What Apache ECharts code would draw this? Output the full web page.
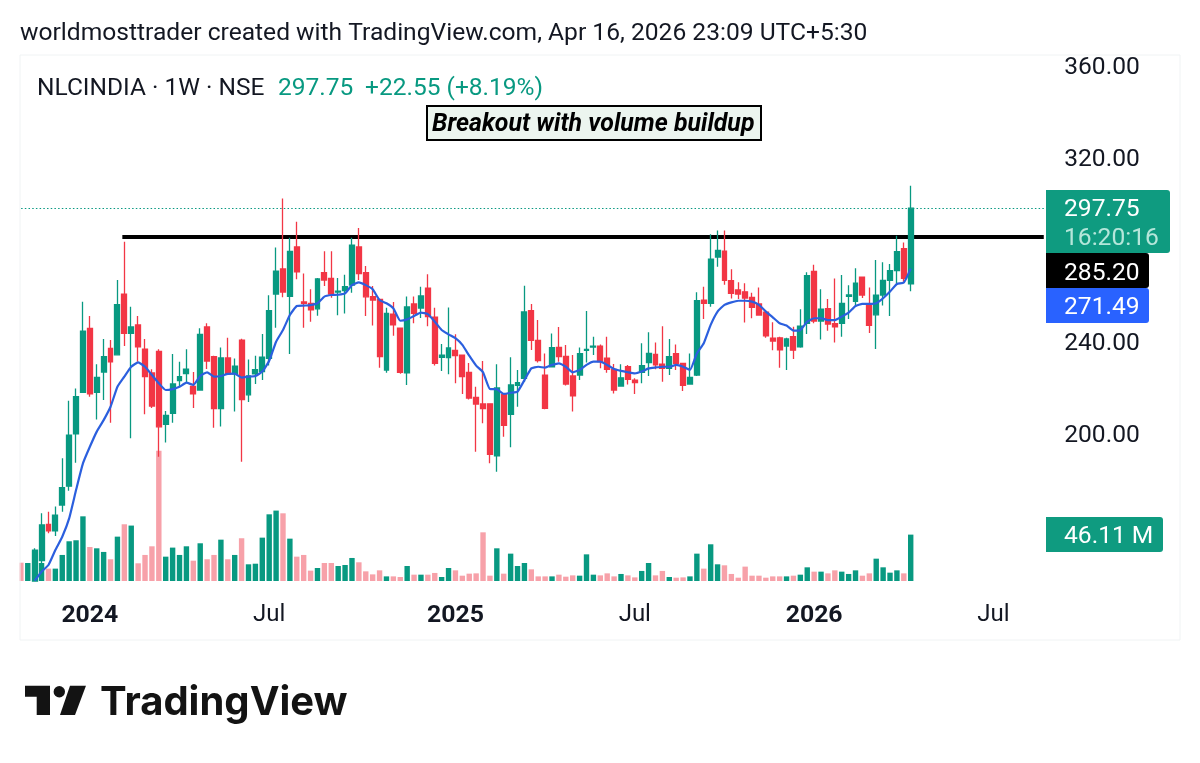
<!DOCTYPE html>
<html>
<head>
<meta charset="utf-8">
<script src="https://cdn.jsdelivr.net/npm/echarts@6/dist/echarts.min.js"></script>
<style>
  html, body { margin: 0; padding: 0; background: #fff; }
  #chart { width: 1200px; height: 763px; }
</style>
</head>
<body>
<div id="chart"></div>
<script>
// weekly bars, first week of the axis and the labelled weeks
const firstWeek = '2023-10-23';
const weekCount = 149;
const tickLabels = {
  '2024-01-01': '2024', '2024-07-01': 'Jul', '2025-01-06': '2025',
  '2025-07-07': 'Jul', '2026-01-05': '2026', '2026-07-06': 'Jul'
};

// first two weeks have no visible candle, only a volume bar
const opens = [null, null, 135.6, 144.5, 160.3, 157.5, 168.7, 176.9, 199.6, 217.7,
  245.5, 217.7, 226.5, 236.8, 234.0, 260.4, 243.3, 247.0, 236.5, 226.1,
  235.5, 203.8, 208.5, 222.8, 225.8, 220.3, 218.7, 246.1, 233.2, 210.6,
  232.6, 225.7, 240.4, 216.6, 225.7, 226.7, 232.5, 260.4, 271.3, 259.4,
  280.9, 257.0, 256.4, 254.0, 269.7, 267.2, 261.3, 261.9, 264.3, 280.9,
  269.7, 259.3, 258.1, 227.4, 251.7, 245.6, 226.2, 256.1, 254.3, 263.0,
  250.4, 232.9, 232.8, 235.9, 233.9, 226.4, 215.5, 212.6, 212.7, 190.1,
  216.7, 208.1, 220.7, 223.8, 253.2, 240.3, 225.2, 228.8, 237.2, 233.3,
  224.8, 225.2, 235.9, 237.4, 237.8, 232.5, 227.7, 220.4, 228.8, 223.0,
  226.4, 230.6, 234.2, 229.9, 228.1, 234.5, 230.3, 221.3, 225.2, 257.8,
  256.4, 276.5, 279.1, 266.2, 262.2, 261.4, 259.0, 256.1, 252.5, 241.2,
  241.4, 237.8, 241.9, 237.5, 247.7, 270.3, 248.7, 254.1, 247.5, 247.7,
  259.4, 257.2, 267.8, 255.8, 251.4, 260.0, 266.4, 270.6, 280.2, 264.8];
const closes = [null, null, 149.1, 160.0, 157.5, 164.3, 176.2, 199.1, 215.8, 244.3,
  217.0, 224.2, 233.2, 230.9, 255.8, 243.3, 246.1, 237.5, 224.5, 211.7,
  202.7, 207.7, 221.3, 224.5, 227.8, 217.0, 242.9, 231.3, 210.6, 232.6,
  225.7, 229.1, 214.5, 224.8, 227.5, 233.0, 253.2, 270.4, 261.3, 279.0,
  270.1, 256.4, 253.5, 267.0, 266.5, 260.4, 261.7, 263.6, 281.7, 269.3,
  259.2, 257.8, 233.2, 252.0, 247.0, 226.4, 254.8, 252.0, 259.6, 250.6,
  230.3, 233.8, 237.0, 233.6, 224.5, 215.2, 212.6, 210.6, 190.7, 219.6,
  203.3, 220.9, 221.9, 252.6, 240.3, 231.5, 210.7, 237.1, 233.2, 221.3,
  216.1, 234.5, 236.4, 237.8, 231.0, 227.7, 218.7, 224.0, 223.3, 221.9,
  229.3, 234.6, 229.6, 228.1, 233.2, 230.3, 220.7, 224.2, 257.5, 256.4,
  275.6, 279.4, 266.4, 260.7, 260.4, 258.7, 254.6, 251.3, 242.2, 240.0,
  236.1, 240.9, 236.0, 246.5, 268.4, 248.7, 253.8, 247.4, 246.1, 256.4,
  260.0, 265.2, 260.0, 246.8, 259.9, 266.4, 270.6, 278.8, 267.2, 297.75];
const lows = [null, null, 135.6, 139.7, 156.4, 155.2, 165.8, 174.9, 187.1, 217.7,
  215.8, 205.9, 214.4, 204.5, 234.0, 237.8, 197.7, 231.0, 208.1, 210.9,
  189.7, 195.9, 204.5, 220.2, 221.6, 210.9, 218.7, 227.8, 202.3, 202.8,
  225.7, 209.3, 187.5, 213.5, 221.3, 223.0, 229.3, 245.8, 259.0, 234.3,
  266.8, 245.8, 248.4, 251.0, 263.9, 258.8, 251.2, 252.0, 261.0, 266.5,
  250.9, 246.7, 228.4, 226.2, 242.3, 225.8, 220.9, 247.7, 250.0, 246.4,
  229.3, 227.0, 225.5, 221.6, 217.0, 214.6, 191.9, 204.2, 186.8, 183.2,
  198.4, 193.8, 211.4, 222.3, 236.1, 230.7, 210.3, 228.8, 231.0, 220.7,
  209.3, 223.0, 230.7, 233.9, 228.1, 226.2, 217.2, 220.1, 221.1, 217.0,
  221.6, 224.8, 227.7, 222.3, 225.2, 227.4, 218.3, 221.3, 224.8, 249.6,
  254.9, 272.3, 264.5, 258.5, 258.3, 248.0, 249.9, 251.0, 241.4, 236.0,
  228.4, 227.4, 232.2, 237.1, 243.0, 247.7, 240.7, 244.5, 239.4, 241.9,
  249.6, 254.9, 258.7, 243.5, 236.5, 255.4, 250.9, 265.1, 265.8, 261.6];
const highs = [null, null, 149.9, 165.1, 165.8, 168.0, 189.0, 214.0, 219.3, 257.1,
  250.9, 229.9, 240.9, 240.4, 266.5, 283.2, 254.9, 250.9, 240.9, 227.7,
  236.4, 209.6, 234.3, 231.0, 236.4, 226.5, 245.5, 247.7, 233.6, 237.2,
  241.4, 232.4, 241.0, 232.0, 233.6, 243.0, 259.9, 280.7, 302.0, 284.9,
  291.9, 269.4, 262.5, 267.4, 279.0, 279.0, 267.4, 268.8, 284.9, 289.1,
  272.6, 263.9, 258.3, 254.5, 257.0, 245.9, 259.3, 259.3, 263.6, 269.0,
  254.5, 238.7, 254.6, 242.9, 234.1, 230.4, 220.1, 231.3, 212.9, 229.9,
  217.2, 232.9, 227.4, 264.0, 256.1, 249.1, 234.6, 243.3, 246.1, 238.3,
  233.9, 237.2, 253.0, 241.9, 238.5, 241.9, 230.0, 229.9, 229.6, 223.8,
  239.0, 243.8, 239.4, 246.4, 240.9, 238.5, 230.3, 234.6, 261.2, 263.6,
  286.4, 288.0, 288.0, 271.2, 265.5, 265.1, 261.0, 263.3, 253.5, 248.1,
  241.9, 241.4, 246.2, 253.8, 269.9, 273.2, 262.5, 258.3, 267.2, 268.7,
  264.2, 271.6, 268.0, 263.3, 275.2, 274.2, 273.5, 285.8, 282.8, 307.5];
const maValues = [null, null, 135.8, 139.7, 142.6, 149.1, 154.9, 162.9, 175.2, 186.8,
  194.0, 200.6, 205.6, 211.4, 220.1, 224.5, 228.8, 230.7, 228.8, 225.2,
  221.6, 218.7, 219.1, 220.1, 221.9, 220.9, 224.8, 226.4, 224.5, 224.8,
  225.7, 225.8, 224.1, 224.5, 224.8, 226.7, 231.4, 239.7, 244.8, 251.3,
  255.2, 255.4, 255.6, 256.4, 259.3, 260.0, 260.1, 260.7, 264.3, 265.5,
  264.3, 262.5, 257.8, 256.4, 254.2, 248.8, 249.4, 250.9, 252.3, 251.7,
  248.4, 244.8, 242.9, 241.2, 238.3, 233.6, 229.3, 226.4, 219.1, 219.0,
  217.0, 217.5, 218.0, 223.0, 228.1, 228.8, 228.4, 229.6, 230.3, 228.8,
  226.4, 227.4, 229.6, 231.0, 231.0, 229.6, 227.8, 227.0, 226.4, 225.9,
  226.7, 228.1, 228.5, 228.8, 228.8, 229.6, 228.8, 227.4, 234.6, 239.0,
  247.0, 252.8, 255.7, 256.8, 257.5, 257.5, 257.1, 255.7, 252.8, 250.3,
  247.7, 246.7, 244.5, 244.8, 248.4, 249.9, 249.9, 249.1, 249.1, 250.6,
  252.3, 255.2, 256.1, 256.1, 256.4, 258.6, 261.5, 264.8, 265.4, 271.49];
// volume in millions
const volumes = [18.2, 17.9, 30.5, 17.9, 12.3, 12.3, 25.9, 39.5, 40.5, 64.3,
  33.8, 32.5, 28.9, 21.6, 44.1, 56.4, 55.1, 17.6, 25.9, 34.5,
  129.4, 24.2, 33.2, 25.9, 34.5, 20.2, 37.5, 21.6, 25.9, 41.1,
  21.6, 25.9, 42.5, 16.6, 17.2, 43.1, 66.3, 70.0, 67.3, 42.1,
  24.2, 25.9, 10.3, 12.9, 17.9, 17.9, 14.9, 15.9, 22.9, 18.6,
  9.6, 6.6, 10.6, 4.6, 4.6, 4.0, 14.9, 6.3, 6.3, 6.3,
  8.0, 4.0, 12.9, 10.6, 5.3, 7.3, 7.6, 48.4, 5.3, 32.5,
  7.3, 27.2, 14.9, 17.9, 11.6, 4.6, 4.6, 4.6, 6.3, 4.3,
  5.6, 5.3, 26.5, 6.3, 5.6, 7.6, 4.6, 7.0, 5.6, 3.6,
  10.0, 17.9, 5.6, 10.0, 4.0, 3.3, 3.6, 4.6, 27.2, 12.3,
  36.5, 16.6, 15.6, 7.0, 3.3, 14.3, 5.3, 5.3, 3.3, 4.6,
  4.6, 4.6, 5.3, 6.3, 13.6, 9.3, 9.3, 7.6, 10.6, 9.3,
  7.0, 10.6, 5.3, 7.6, 22.2, 13.6, 8.3, 10.6, 7.6, 46.11];
const earlyVolumeDown = [true, false];

const lastPrice = 297.75;
const levelPrice = 285.2;
const levelStartBar = 15;
const maLast = 271.49;
const volumeLast = '46.11 M';
const countdown = '16:20:16';
const priceChange = '+22.55 (+8.19%)';

const upColor = '#089981';
const downColor = '#F23645';
const volumeDownColor = '#F7A1A9';
const textColor = '#131722';
const font = 'Roboto';

const categories = [];
for (let i = 0; i < weekCount; i++) {
  const d = new Date(firstWeek + 'T00:00:00Z');
  d.setUTCDate(d.getUTCDate() + i * 7);
  categories.push(d.toISOString().slice(0, 10));
}

const candleData = opens.map((o, i) =>
  o === null ? ['-', '-', '-', '-'] : [o, closes[i], lows[i], highs[i]]);
const volumeData = volumes.map((v, i) => {
  const down = opens[i] === null ? earlyVolumeDown[i] : closes[i] < opens[i];
  return { value: v, itemStyle: { color: down ? volumeDownColor : upColor } };
});

function label(x, y, text, color, size, extra) {
  return {
    type: 'text', x: x, y: y, z: 20,
    style: Object.assign({
      text: text, fill: color, fontFamily: font, fontSize: size,
      textVerticalAlign: 'middle'
    }, extra)
  };
}
function tag(y, h, right, color) {
  return {
    type: 'rect', z: 19,
    shape: { x: 1046, y: y, width: right - 1046, height: h, r: [0, 3, 3, 0] },
    style: { fill: color }
  };
}

const chart = echarts.init(document.getElementById('chart'), null, { renderer: 'canvas' });
chart.setOption({
  animation: false,
  backgroundColor: '#fff',
  grid: [
    { left: 17.42, width: 1027.8, top: 65, height: 552 },
    { left: 17.42, width: 1027.8, top: 410, height: 171 }
  ],
  xAxis: [
    { type: 'category', gridIndex: 0, data: categories, show: false },
    {
      type: 'category', gridIndex: 1, data: categories,
      axisLine: { show: false }, axisTick: { show: false }, splitLine: { show: false },
      axisLabel: {
        margin: 22, color: textColor, fontFamily: font, fontSize: 24, hideOverlap: false,
        interval: function (i, value) { return tickLabels[value] !== undefined; },
        formatter: function (value) {
          const t = tickLabels[value] || '';
          return t === 'Jul' ? t : '{y|' + t + '}';
        },
        rich: { y: { fontWeight: 'bold', fontSize: 24.8, fontFamily: font, color: textColor } }
      }
    }
  ],
  yAxis: [
    {
      type: 'value', gridIndex: 0, position: 'right', min: 120, max: 360, interval: 40,
      axisLine: { show: false }, axisTick: { show: false }, splitLine: { show: false },
      axisLabel: {
        margin: 19, showMinLabel: false,
        formatter: function (v) { return '{p|' + v.toFixed(2) + '}'; },
        rich: { p: { color: textColor, fontFamily: font, fontSize: 24.6, padding: [5, 0, 0, 0] } }
      }
    },
    { type: 'value', gridIndex: 1, min: 0, max: 170, show: false }
  ],
  series: [
    {
      type: 'bar', name: 'Volume', xAxisIndex: 1, yAxisIndex: 1, z: 1,
      barWidth: 5.4, data: volumeData
    },
    {
      type: 'candlestick', name: 'NLCINDIA', xAxisIndex: 0, yAxisIndex: 0, z: 3,
      barWidth: 5.4, clip: false, data: candleData,
      itemStyle: {
        color: upColor, color0: downColor, borderColor: upColor, borderColor0: downColor,
        borderWidth: 1.3
      },
      markLine: {
        silent: true, symbol: 'none', z: 2, label: { show: false }, animation: false,
        data: [
          { yAxis: lastPrice, lineStyle: { color: upColor, type: [1.5, 2.2], width: 1 } },
          [
            { coord: [categories[levelStartBar], levelPrice], lineStyle: { color: '#000', type: 'solid', width: 4, cap: 'square' } },
            { coord: [categories[weekCount - 1], levelPrice] }
          ]
        ]
      }
    },
    {
      type: 'line', name: 'MA', xAxisIndex: 0, yAxisIndex: 0, z: 4,
      data: maValues, showSymbol: false, connectNulls: false, smooth: 0.15,
      lineStyle: { color: '#2B5FDE', width: 2.2 }
    }
  ],
  graphic: [
    // trims the first bar and the dotted line at the pane edge
    { type: 'rect', z: 10, shape: { x: 0, y: 190, width: 19.5, height: 400 }, style: { fill: '#fff' } },
    // pane outline
    { type: 'rect', z: 11, shape: { x: 20, y: 55, width: 1160, height: 585 },
      style: { fill: 'none', stroke: '#f0f3f4', lineWidth: 1 } },
    // header
    label(20, 34, 'worldmosttrader created with TradingView.com, Apr 16, 2026 23:09 UTC+5:30', textColor, 24.6),
    label(37, 89, 'NLCINDIA · 1W · NSE', textColor, 24.5),
    label(278, 89, lastPrice.toFixed(2), upColor, 24.5),
    label(365, 89, priceChange, upColor, 24.5),
    // annotation
    { type: 'rect', z: 19, shape: { x: 427, y: 106, width: 334, height: 34 },
      style: { fill: '#ECF5EF', stroke: '#000', lineWidth: 2 } },
    label(432, 125, 'Breakout with volume buildup', '#000', 24.9, { fontWeight: 'bold', fontStyle: 'italic' }),
    // right scale tags
    tag(190, 63, 1170, '#0F9B80'),
    label(1064, 210, lastPrice.toFixed(2), '#fff', 24.6),
    label(1064, 239, countdown, '#B5E6DA', 24.6),
    tag(253, 35, 1149, '#000'),
    label(1064, 274, levelPrice.toFixed(2), '#fff', 24.6),
    tag(288, 35, 1149, '#2962FF'),
    label(1064, 308, maLast.toFixed(2), '#fff', 24.6),
    tag(517, 35, 1163, '#0F9B80'),
    label(1064, 537, volumeLast, '#fff', 24.6),
    // TradingView logo
    { type: 'polygon', z: 20, shape: { points: [[25, 685.7], [50, 685.7], [50, 715], [36.7, 715], [36.7, 696.7], [25, 696.7]] },
      style: { fill: '#131313' } },
    { type: 'circle', z: 20, shape: { cx: 59.3, cy: 691.7, r: 5.7 }, style: { fill: '#131313' } },
    { type: 'polygon', z: 20, shape: { points: [[70, 685.7], [86, 685.7], [75, 715], [60, 715]] },
      style: { fill: '#131313' } },
    label(100, 703, 'TradingView', '#131313', 40, { fontFamily: 'Inter', fontWeight: 700 })
  ]
});
</script>
</body>
</html>
